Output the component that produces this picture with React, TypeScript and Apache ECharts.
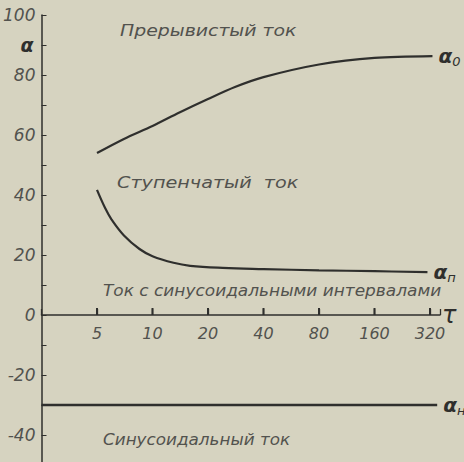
import React, { useEffect, useRef } from "react";
import * as echarts from "echarts";

// τ tick values on the (log base 2) time axis
const tauTicks = [5, 10, 20, 40, 80, 160, 320];

// Прерывистый ток (α0)
const upperTau = [5, 7, 10, 14, 20, 28, 40, 80, 160, 330];
const upperAlpha = [54, 58.7, 63, 67.5, 72, 76, 79.3, 83.5, 85.7, 86.3];

// Ступенчатый ток (αп)
const stepTau = [5, 5.5, 6, 7, 8.5, 10, 13, 16, 24, 40, 80, 160, 310];
const stepAlpha = [41.7, 36, 31.8, 26.5, 22, 19.6, 17.4, 16.4, 15.7, 15.3, 14.9, 14.6, 14.3];

// Синусоидальный ток (αн)
const sinTau = [2.5, 350];
const sinAlpha = [-30, -30];

const toK = (t: number) => Math.log2(t / 5);
const pairs = (ts: number[], vs: number[]) => ts.map((t, i) => [toK(t), vs[i]]);

const INK = "#2f2f2d";
const TEXT = "#52524e";
const FONT = "DejaVu Sans";

export default function App() {
  const ref = useRef<HTMLDivElement>(null);
  useEffect(() => {
    if (!ref.current) return;
    const chart = echarts.init(ref.current, null, { renderer: "svg" });
    const endLab = (sub: string) => ({
      show: true,
      distance: 6,
      formatter: `{a|α}{s|${sub}}`,
      rich: {
        a: { fontSize: 20, fontFamily: FONT, color: INK, fontStyle: "italic", fontWeight: "bold" },
        s: { fontSize: 13, fontFamily: FONT, color: INK, fontStyle: "italic", padding: [10, 0, 0, 0] },
      },
    });
    const labelTxt = (text: string, x: number, y: number, sx: number) => ({
      type: "text",
      x,
      y,
      scaleX: sx,
      style: {
        text,
        fill: TEXT,
        font: `italic 16px "${FONT}"`,
        textVerticalAlign: "middle",
      },
    });
    chart.setOption({
      animation: false,
      backgroundColor: "#d6d3c0",
      grid: { left: 41.5, right: 24, top: 15, bottom: -3, containLabel: false, outerBoundsMode: "none" },
      xAxis: {
        type: "value",
        min: -1,
        max: 6.18,
        interval: 1,
        name: "τ",
        nameLocation: "end",
        nameGap: 2,
        nameTextStyle: { fontSize: 24, fontStyle: "italic", fontFamily: FONT, color: INK, padding: [10, 0, 0, 0] },
        axisLine: { onZero: true, lineStyle: { color: INK, width: 1.5 } },
        axisTick: { show: true, inside: true, length: 6, lineStyle: { color: INK, width: 1.3 } },
        splitLine: { show: false },
        axisLabel: { show: false },
      },
      yAxis: {
        type: "value",
        min: -50,
        max: 100,
        interval: 10,
        axisLine: { onZero: false, lineStyle: { color: INK, width: 1.5 } },
        axisTick: { inside: true, length: 5, lineStyle: { color: INK } },
        splitLine: { show: false },
        axisLabel: {
          margin: 6,
          fontSize: 17,
          fontStyle: "italic",
          fontFamily: FONT,
          color: TEXT,
          rich: { al: { fontSize: 19, fontWeight: "bold", color: INK, fontFamily: FONT, padding: [0, 2, 0, 0] } },
          formatter: (v: number) => {
            if (v === 90) return "{al|α}";
            return v % 20 === 0 && v > -50 ? String(v) : "";
          },
        },
      },
      series: [
        {
          type: "line",
          data: pairs(upperTau, upperAlpha),
          smooth: 0.3,
          showSymbol: false,
          lineStyle: { color: INK, width: 2.2 },
          endLabel: endLab("0"),
        },
        {
          type: "line",
          data: pairs(stepTau, stepAlpha),
          smooth: 0.4,
          showSymbol: false,
          lineStyle: { color: INK, width: 2.2 },
          endLabel: endLab("п"),
        },
        {
          type: "line",
          data: pairs(sinTau, sinAlpha),
          showSymbol: false,
          lineStyle: { color: INK, width: 2.6 },
          endLabel: endLab("н"),
        },
        {
          // τ tick labels on the α = 0 line
          type: "scatter",
          silent: true,
          z: 5,
          data: tauTicks.map((t) => [toK(t), 0]),
          symbol: "rect",
          symbolSize: [2, 7],
          symbolOffset: [0, -3.5],
          itemStyle: { color: INK, opacity: 1 },
          label: {
            show: true,
            position: "bottom",
            distance: 10,
            fontSize: 16,
            fontStyle: "italic",
            fontFamily: FONT,
            color: TEXT,
            formatter: (p: any) => String(tauTicks[p.dataIndex]),
          },
        },
      ],
      graphic: [
        labelTxt("Прерывистый ток", 120, 31, 1.18),
        labelTxt("Ступенчатый  ток", 117, 183, 1.2),
        labelTxt("Ток с синусоидальными интервалами", 103, 291, 1.06),
        labelTxt("Синусоидальный ток", 103, 440, 1.05),
      ],
    });
    return () => chart.dispose();
  }, []);
  return (
    <div
      ref={ref}
      style={{ position: "fixed", left: 0, top: 0, width: 464, height: 462 }}
    />
  );
}
